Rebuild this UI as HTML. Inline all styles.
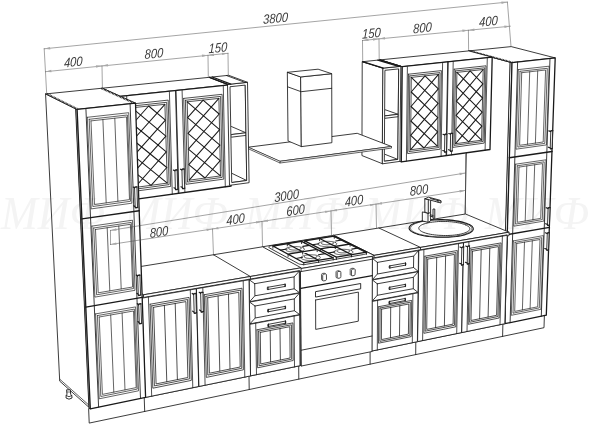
<!DOCTYPE html><html><head><meta charset="utf-8"><style>html,body{margin:0;padding:0;background:#fff}svg{display:block}</style></head><body><svg width="600" height="424" viewBox="0 0 600 424" stroke-linejoin="round" stroke-linecap="round"><path d="M89,408.4L544.4,315L544,327.7L89.6,423Z" fill="#fff" stroke="#1a1a1a" stroke-width="0.85"/><path d="M144.7,411.5L144.2,397.1" fill="none" stroke="#1a1a1a" stroke-width="0.85"/><path d="M249.2,389.5L249,375.6" fill="none" stroke="#1a1a1a" stroke-width="0.85"/><path d="M298.8,379.1L298.7,365.4" fill="none" stroke="#1a1a1a" stroke-width="0.85"/><path d="M370.1,364.2L370.1,350.8" fill="none" stroke="#1a1a1a" stroke-width="0.85"/><path d="M415.7,354.6L415.8,341.4" fill="none" stroke="#1a1a1a" stroke-width="0.85"/><path d="M502.6,336.4L502.9,323.5" fill="none" stroke="#1a1a1a" stroke-width="0.85"/><path d="M468.8,50.9L510.4,62.2L503.3,322.7L463.6,303Z" fill="#fff" stroke="#1a1a1a" stroke-width="0.85"/><path d="M463.7,301.1L503.4,320.8" fill="none" stroke="#1a1a1a" stroke-width="0.68"/><path d="M510.4,62.2L512,62.6L504.8,323.7L503.3,323Z" fill="#fff" stroke="#1a1a1a" stroke-width="0.85"/><path d="M468.8,50.9L511.2,46.6L555.2,57.9L512,62.6Z" fill="#fff" stroke="#1a1a1a" stroke-width="0.85"/><path d="M469.7,50.8L512.8,62.5" fill="none" stroke="#1a1a1a" stroke-width="1.7" stroke-dasharray="0.8 0.7" stroke-linecap="butt"/><path d="M512,62.6L555.2,57.9L546.3,315.2L504.8,323.7Z" fill="#fff" stroke="#1a1a1a" stroke-width="1.3"/><path d="M518.3,69.6L549.1,66.2L546.5,144.9L516,149.2L518.3,69.6M520,71.3L547.3,68.3L544.8,143.4L517.8,147.1L520,71.3M521.7,72.7L545.6,70L543.2,142L519.6,145.3L521.7,72.7M527.5,144.2L529.7,71.8M535.4,143.1L537.7,70.9" fill="none" stroke="#1a1a1a" stroke-width="0.675"/><path d="M515.6,164.2L546,159.8L543.9,221.1L513.8,226.2L515.6,164.2M517.3,165.8L544.2,161.8L542.3,219.6L515.6,224.1L517.3,165.8M519,167.1L542.5,163.6L540.7,218.4L517.3,222.3L519,167.1M525.2,221L526.8,165.9M532.9,219.7L534.7,164.8" fill="none" stroke="#1a1a1a" stroke-width="0.675"/><path d="M513.4,240.9L543.4,235.6L540.9,309.3L511.3,315.3L513.4,240.9M515.1,242.3L541.7,237.7L539.3,307.9L513,313.2L515.1,242.3M516.7,243.5L540,239.5L537.7,306.8L514.7,311.4L516.7,243.5M522.4,309.9L524.5,242.2M530.1,308.3L532.3,240.8" fill="none" stroke="#1a1a1a" stroke-width="0.675"/><path d="M510.1,322.6L517.6,62M541.3,316.2L550,58.5" fill="none" stroke="#1a1a1a" stroke-width="0.85"/><path d="M509.3,157.7L552,151.5" fill="none" stroke="#1a1a1a" stroke-width="1.4"/><path d="M507.2,234.6L549.4,227.4" fill="none" stroke="#1a1a1a" stroke-width="1.4"/><path d="M548.3,147.2L550.6,148M548.8,130.9L551.2,131.6" fill="none" stroke="#1a1a1a" stroke-width="1.2"/><path d="M550.6,149L552,148.8L552.7,130.4L551.2,130.6Z" fill="#fff" stroke="#1a1a1a" stroke-width="0.85" stroke-linejoin="round"/><path d="M550.4,148.7L552.3,148.4M551,131L552.9,130.7" fill="none" stroke="#1a1a1a" stroke-width="1.0"/><path d="M545.7,223.7L548,224.6M546.2,207.7L548.5,208.6" fill="none" stroke="#1a1a1a" stroke-width="1.2"/><path d="M547.9,225.6L549.4,225.3L550,207.4L548.5,207.6Z" fill="#fff" stroke="#1a1a1a" stroke-width="0.85" stroke-linejoin="round"/><path d="M547.7,225.3L549.6,224.9M548.3,208L550.2,207.7" fill="none" stroke="#1a1a1a" stroke-width="1.0"/><path d="M544.8,248.5L547.1,249.4M545.4,232.8L547.6,233.7" fill="none" stroke="#1a1a1a" stroke-width="1.2"/><path d="M547.1,250.4L548.5,250.2L549.1,232.5L547.7,232.7Z" fill="#fff" stroke="#1a1a1a" stroke-width="0.85" stroke-linejoin="round"/><path d="M546.9,250.1L548.7,249.8M547.5,233.1L549.3,232.8" fill="none" stroke="#1a1a1a" stroke-width="1.0"/><path d="M333.5,235.3L465.5,214L509.1,232.2L374,255.4Z" fill="#fff" stroke="#1a1a1a" stroke-width="0.85"/><path d="M374,255.4L509.1,232.2L509,235.7L374,259Z" fill="#fff" stroke="#1a1a1a" stroke-width="0.85"/><path d="M333.5,235.3L374,255.4L374,259L333.5,238.8Z" fill="#fff" stroke="#1a1a1a" stroke-width="0.85"/><path d="M378.9,228L420.5,247.4L420.5,250.9" fill="none" stroke="#1a1a1a" stroke-width="0.85"/><path d="M418.8,250.1L507.2,234.9L504.8,323.7L417.6,341.6Z" fill="#fff" stroke="#1a1a1a" stroke-width="0.85"/><path d="M418.7,250.5L463.5,242.8L461.7,332.6L417.6,341.6Z" fill="#fff" stroke="#1a1a1a" stroke-width="0.85"/><path d="M422.6,340.6L423.9,249.6M456.7,333.6L458.5,243.7M424.9,256.2L457.3,250.5L455.8,326.8L423.9,333.3L424.9,256.2M426.3,257.6L455.9,252.5L454.5,325.3L425.2,331.2L426.3,257.6M427.7,259.1L454.4,254.4L453.1,324.1L426.7,329.4L427.7,259.1M435.6,327.6L436.7,257.5M444.4,325.9L445.6,255.9" fill="none" stroke="#1a1a1a" stroke-width="0.765"/><path d="M463.9,242.7L507.2,235.3L504.8,323.7L462.1,332.5Z" fill="#fff" stroke="#1a1a1a" stroke-width="0.85"/><path d="M467,331.5L468.9,241.9M500,324.7L502.4,236.1M469.8,248.3L501.1,242.9L499.1,318L468.2,324.3L469.8,248.3M471.1,249.8L499.8,244.8L497.9,316.5L469.6,322.3L471.1,249.8M472.5,251.2L498.4,246.6L496.6,315.3L471,320.5L472.5,251.2M479.6,318.8L481.2,249.7M488.1,317L489.8,248.2" fill="none" stroke="#1a1a1a" stroke-width="0.765"/><path d="M459.7,263.3L461.8,264.3M460,247L462.2,248" fill="none" stroke="#1a1a1a" stroke-width="1.2"/><path d="M461.8,265.3L463.4,265L463.7,246.7L462.2,247Z" fill="#fff" stroke="#1a1a1a" stroke-width="0.85" stroke-linejoin="round"/><path d="M461.6,265L463.6,264.6M462,247.4L464,247" fill="none" stroke="#1a1a1a" stroke-width="1.0"/><path d="M465.4,262.3L467.6,263.3M465.7,246L467.9,247" fill="none" stroke="#1a1a1a" stroke-width="1.2"/><path d="M467.6,264.3L469.1,264L469.5,245.7L467.9,246Z" fill="#fff" stroke="#1a1a1a" stroke-width="0.85" stroke-linejoin="round"/><path d="M467.3,263.9L469.3,263.6M467.7,246.4L469.7,246" fill="none" stroke="#1a1a1a" stroke-width="1.0"/><path d="M467.9,223.9L469.4,224.6L470.6,225.3L471.6,226L472.4,226.7L472.9,227.5L473.2,228.3L473.3,229L473.1,229.8L472.7,230.6L472,231.3L471.1,232L470,232.7L468.6,233.4L467,234L465.3,234.6L463.3,235.2L461.1,235.7L458.8,236.1L456.4,236.5L453.8,236.8L451.2,237L448.4,237.2L445.6,237.3L442.8,237.3L439.9,237.3L437.1,237.2L434.3,237L431.5,236.8L428.8,236.5L426.2,236.1L423.8,235.7L421.5,235.2L419.3,234.7L417.3,234.1L415.5,233.5L413.9,232.8L412.5,232.1L411.4,231.4L410.5,230.7L409.8,229.9L409.3,229.1L409.1,228.4L409.2,227.6L409.4,226.8L410,226.1L410.7,225.3L411.7,224.6L412.9,224L414.3,223.3L415.9,222.7L417.7,222.2L419.7,221.7L421.8,221.2L424.1,220.8L426.5,220.4L429,220.1L431.6,219.9L434.2,219.8L436.9,219.7L439.7,219.6L442.4,219.6L445.2,219.7L447.9,219.9L450.5,220.1L453.1,220.4L455.6,220.7L458.1,221.1L460.3,221.6L462.5,222.1L464.5,222.7L466.3,223.3L467.9,223.9Z" fill="#fff" stroke="#1a1a1a" stroke-width="1.1"/><path d="M466.7,224.1L468.1,224.7L469.3,225.4L470.2,226.1L471,226.8L471.5,227.5L471.8,228.3L471.9,229L471.7,229.7L471.3,230.5L470.6,231.2L469.8,231.9L468.7,232.5L467.4,233.2L465.9,233.8L464.2,234.3L462.3,234.9L460.2,235.3L458,235.7L455.7,236.1L453.2,236.4L450.7,236.6L448.1,236.8L445.4,236.9L442.7,236.9L440,236.9L437.2,236.8L434.6,236.6L431.9,236.4L429.4,236.1L426.9,235.8L424.6,235.4L422.4,234.9L420.3,234.4L418.4,233.9L416.7,233.3L415.2,232.6L413.8,232L412.7,231.3L411.8,230.6L411.2,229.8L410.7,229.1L410.5,228.4L410.6,227.6L410.9,226.9L411.3,226.2L412.1,225.5L413,224.8L414.2,224.2L415.5,223.5L417.1,223L418.8,222.4L420.7,221.9L422.7,221.5L424.9,221.1L427.1,220.8L429.5,220.5L432,220.3L434.5,220.1L437.1,220L439.7,220L442.4,220L445,220.1L447.6,220.3L450.1,220.5L452.6,220.7L455,221.1L457.3,221.5L459.5,221.9L461.5,222.4L463.4,222.9L465.2,223.5L466.7,224.1" fill="none" stroke="#1a1a1a" stroke-width="0.6"/><path d="M465.6,224.9L466.7,225.4L467.7,226L468.5,226.5L469.1,227.1L469.5,227.7L469.8,228.3L469.8,229L469.7,229.6L469.3,230.2L468.8,230.8L468.1,231.3L467.2,231.9L466.1,232.4L464.8,232.9L463.4,233.4L461.9,233.8L460.2,234.2L458.3,234.5L456.4,234.8L454.3,235.1L452.2,235.3L450.1,235.4L447.8,235.5L445.6,235.5L443.3,235.5L441.1,235.4L438.8,235.3L436.6,235.1L434.5,234.9L432.5,234.6L430.5,234.3L428.7,233.9L427,233.5L425.4,233L423.9,232.5L422.7,232L421.5,231.4L420.6,230.8L419.9,230.3L419.3,229.6L418.9,229L418.8,228.4L418.8,227.8L419,227.2L419.4,226.6L420,226L420.8,225.5L421.7,224.9L422.8,224.4L424.1,223.9L425.5,223.5L427.1,223.1L428.8,222.7L430.6,222.4L432.5,222.1L434.5,221.9L436.6,221.7L438.7,221.5L440.8,221.5L443,221.4L445.2,221.5L447.4,221.5L449.6,221.7L451.7,221.8L453.8,222.1L455.8,222.3L457.7,222.7L459.5,223L461.2,223.4L462.8,223.9L464.3,224.3L465.6,224.9" fill="none" stroke="#1a1a1a" stroke-width="0.85"/><path d="M422.7,212L428,213.2L430.6,212.2L430.6,221L428,222.3L422.7,221Z" fill="#fff" stroke="#1a1a1a" stroke-width="0.9"/><path d="M428,213.2L428,222.3" fill="none" stroke="#1a1a1a" stroke-width="0.9"/><path d="M430.6,215L434.5,215.6L434.5,217L430.6,216.4Z" fill="#fff" stroke="#1a1a1a" stroke-width="0.9"/><path d="M433.4,209L434.8,209L434.8,218.3L433.4,218.3Z" fill="#fff" stroke="#1a1a1a" stroke-width="0.9"/><path d="M425.2,198.6L428.3,199.6L430.6,198.6L430.6,212.4L428.3,213.4L425.2,212.2Z" fill="#fff" stroke="#1a1a1a" stroke-width="0.9"/><path d="M428.3,199.6L428.3,213.4" fill="none" stroke="#1a1a1a" stroke-width="0.9"/><path d="M425.2,198.6L428.6,197.2L439.8,200.2L441,201L441,203L438,202.2L430.6,200.2L428.3,199.6Z" fill="#fff" stroke="#1a1a1a" stroke-width="0.9"/><path d="M430.6,198.6L438,200.6L438,202.2" fill="none" stroke="#1a1a1a" stroke-width="0.9"/><path d="M438,200.6L441,201" fill="none" stroke="#1a1a1a" stroke-width="0.9"/><path d="M372.3,258.1L418.8,250.1L417.6,341.6L371.8,351Z" fill="#fff" stroke="#1a1a1a" stroke-width="0.85"/><path d="M372.5,258.5L418.5,250.6L418.3,271.4L372.4,279.6Z" fill="#fff" stroke="#1a1a1a" stroke-width="0.85"/><path d="M377.4,262.4L413.7,256.1L413.5,267.5L377.4,274L377.4,262.4M372.5,258.5L377.4,262.4M418.5,250.6L413.7,256.1M418.3,271.4L413.5,267.5M372.4,279.6L377.4,274" fill="none" stroke="#1a1a1a" stroke-width="0.85"/><path d="M389.6,268L405.8,265.1L405.8,263L389.6,265.9Z" fill="#fff" stroke="#1a1a1a" stroke-width="0.85" stroke-linejoin="round"/><path d="M389.9,268.2L389.9,265.6M405.5,265.4L405.5,262.8" fill="none" stroke="#1a1a1a" stroke-width="1.0"/><path d="M372.4,280L418.3,271.7L418,292.4L372.3,301Z" fill="#fff" stroke="#1a1a1a" stroke-width="0.85"/><path d="M377.3,283.8L413.4,277.3L413.3,288.7L377.3,295.3L377.3,283.8M372.4,280L377.3,283.8M418.3,271.7L413.4,277.3M418,292.4L413.3,288.7M372.3,301L377.3,295.3" fill="none" stroke="#1a1a1a" stroke-width="0.85"/><path d="M389.4,289.4L405.6,286.4L405.6,284.3L389.4,287.3Z" fill="#fff" stroke="#1a1a1a" stroke-width="0.85" stroke-linejoin="round"/><path d="M389.8,289.6L389.8,286.9M405.3,286.7L405.3,284.1" fill="none" stroke="#1a1a1a" stroke-width="1.0"/><path d="M372.3,301.4L418,292.8L417.4,341.7L372.1,351Z" fill="#fff" stroke="#1a1a1a" stroke-width="0.85"/><path d="M377.3,349.9L377.6,300.4M412.3,342.7L412.9,293.8M378.7,306.7L411.7,300.4L411.2,336.6L378.5,343.2L378.7,306.7M380.1,308L410.3,302.2L409.9,335.3L379.9,341.4L380.1,308M381.6,309.2L408.8,304L408.4,334.1L381.4,339.6L381.6,309.2M390.5,337.7L390.7,307.5M399.5,335.9L399.8,305.8" fill="none" stroke="#1a1a1a" stroke-width="0.765"/><path d="M389.3,303.6L405.5,300.5L405.5,298.4L389.3,301.5Z" fill="#fff" stroke="#1a1a1a" stroke-width="0.85" stroke-linejoin="round"/><path d="M389.6,303.8L389.7,301.2M405.1,300.8L405.1,298.2" fill="none" stroke="#1a1a1a" stroke-width="1.0"/><path d="M379.9,59.9L468.8,50.9L492.2,57.2L402.2,66.7Z" fill="#fff" stroke="#1a1a1a" stroke-width="0.85"/><path d="M379.9,59.9L402.2,66.7L401.3,161.9L379.4,153.2Z" fill="#fff" stroke="#1a1a1a" stroke-width="0.85"/><path d="M402.2,66.7L492.2,57.2L490,149.5L401.3,161.9Z" fill="#fff" stroke="#1a1a1a" stroke-width="1.3"/><path d="M406.4,161.1L407.4,66.7M441.1,156.3L442.6,63M408.5,74.2L441.4,70.6L440.1,149.2L407.6,153.6L408.5,74.2M409.8,75.9L440,72.6L438.8,147.5L409,151.6L409.8,75.9M411.3,77.4L438.5,74.4L437.4,146.1L410.5,149.8L411.3,77.4" fill="none" stroke="#1a1a1a" stroke-width="0.765"/><path d="M410.7,135.4L424,148M410.8,121L437.4,146.1M411,106.5L437.6,131.9M411.2,92L437.8,117.7M411.3,77.4L438.1,103.3M425,75.9L438.3,88.9M425,75.9L411.2,92M438.5,74.4L411,106.5M438.3,88.9L410.8,121M438.1,103.3L410.7,135.4M437.8,117.7L410.5,149.8M437.6,131.9L424,148" fill="none" stroke="#1a1a1a" stroke-width="1.0625"/><path d="M451.5,154.9L453.2,61.9M485.1,150.2L487.3,58.3M454.2,69.2L486,65.8L484.2,143.1L452.8,147.4L454.2,69.2M455.5,70.9L484.7,67.8L483,141.5L454.1,145.4L455.5,70.9M456.9,72.4L483.2,69.5L481.6,140.2L455.6,143.7L456.9,72.4" fill="none" stroke="#1a1a1a" stroke-width="0.765"/><path d="M455.9,129.6L468.7,141.9M456.1,115.4L481.6,140.2M456.4,101.1L481.9,126.2M456.7,86.8L482.2,112.1M456.9,72.4L482.6,98M470.1,70.9L482.9,83.8M470.1,70.9L456.7,86.8M483.2,69.5L456.4,101.1M482.9,83.8L456.1,115.4M482.6,98L455.9,129.6M482.2,112.1L455.6,143.7M481.9,126.2L468.7,141.9" fill="none" stroke="#1a1a1a" stroke-width="1.0625"/><path d="M446.1,155.6L447.7,61.9M446.6,155.6L448.2,61.9" fill="none" stroke="#1a1a1a" stroke-width="0.85"/><path d="M442.8,150.5L444.9,151.3M443,134.3L445.2,135.1" fill="none" stroke="#1a1a1a" stroke-width="1.2"/><path d="M444.9,152.3L446.5,152.1L446.8,133.8L445.2,134Z" fill="#fff" stroke="#1a1a1a" stroke-width="0.85" stroke-linejoin="round"/><path d="M444.7,152L446.7,151.7M445,134.4L447,134.2" fill="none" stroke="#1a1a1a" stroke-width="1.0"/><path d="M448.5,149.7L450.7,150.5M448.8,133.5L451,134.3" fill="none" stroke="#1a1a1a" stroke-width="1.2"/><path d="M450.7,151.5L452.2,151.3L452.6,133L451,133.2Z" fill="#fff" stroke="#1a1a1a" stroke-width="0.85" stroke-linejoin="round"/><path d="M450.5,151.2L452.5,150.9M450.8,133.7L452.8,133.4" fill="none" stroke="#1a1a1a" stroke-width="1.0"/><path d="M362.6,61.7L383.2,68.1L382.6,163.8L362.3,155.7Z" fill="#fff" stroke="#1a1a1a" stroke-width="0.85"/><path d="M383.2,68.1L400.8,66.3L399.9,161.4L382.6,163.8Z" fill="#fff" stroke="#1a1a1a" stroke-width="0.85"/><clipPath id="c1"><path d="M385.3,70.3L398.7,68.9L397.8,159.4L384.7,161.2Z"/></clipPath><g clip-path="url(#c1)"><path d="M377.8,60.1L398.7,66.5L397.8,161.7L377.3,153.6Z" fill="#fff" stroke="#1a1a1a" stroke-width="0.85"/><path d="M364.4,153L377.3,151.3L397.8,159.4L384.7,161.2Z" fill="#fff" stroke="#1a1a1a" stroke-width="0.85"/><path d="M364.5,108.6L377.6,107.1L398.2,114.3L385,115.9Z" fill="#fff" stroke="#1a1a1a" stroke-width="0.85"/><path d="M385,115.9L398.2,114.3L398.2,116.7L385,118.3Z" fill="#fff" stroke="#1a1a1a" stroke-width="0.85"/></g><path d="M385.3,70.3L398.7,68.9L397.8,159.4L384.7,161.2Z" fill="none" stroke="#1a1a1a" stroke-width="0.85"/><path d="M362.6,61.7L379.9,59.9L400.8,66.3L383.2,68.1Z" fill="#fff" stroke="#1a1a1a" stroke-width="0.85"/><path d="M362.6,61.7L383.2,68.1" fill="none" stroke="#1a1a1a" stroke-width="1.3"/><path d="M377.8,60.1L398.7,66.5" fill="none" stroke="#1a1a1a" stroke-width="1.3"/><path d="M379.9,59.9L400.8,66.3" fill="none" stroke="#1a1a1a" stroke-width="1.3"/><path d="M248.3,147.2L357.2,133.3L391.5,146.5L280.1,161.3Z" fill="#fff" stroke="#1a1a1a" stroke-width="0.85"/><path d="M280.1,161.3L391.5,146.5L391.5,148.1L280.1,163Z" fill="#fff" stroke="#1a1a1a" stroke-width="0.68"/><path d="M248.3,147.2L280.1,161.3L280.1,163L248.3,148.8Z" fill="#fff" stroke="#1a1a1a" stroke-width="0.68"/><path d="M287.7,72.3L301,76.9L301.5,146.6L288.4,141.1Z" fill="#fff" stroke="#1a1a1a" stroke-width="0.85"/><path d="M301,76.9L331.7,73.7L331.9,142.7L301.5,146.6Z" fill="#fff" stroke="#1a1a1a" stroke-width="0.85"/><path d="M287.7,72.3L318.1,69.2L331.7,73.7L301,76.9Z" fill="#fff" stroke="#1a1a1a" stroke-width="0.85"/><path d="M287.9,86.9L301.1,91.7L331.7,88.3" fill="none" stroke="#1a1a1a" stroke-width="0.85"/><path d="M262.3,247.5L300.8,268.6L301.5,366L263.6,341.4Z" fill="#fff" stroke="#1a1a1a" stroke-width="0.85"/><path d="M262.3,246.8L333.5,235.3L374,255.4L372.4,256.3L300.8,268.6Z" fill="#fff" stroke="#1a1a1a" stroke-width="0.85"/><path d="M300.8,268.6L372.4,256.3L372,351.5L301.5,366Z" fill="#fff" stroke="#1a1a1a" stroke-width="0.85"/><path d="M300.8,271.6L372.4,259.2" fill="none" stroke="#1a1a1a" stroke-width="0.85"/><path d="M300.9,288.4L372.3,275.6" fill="none" stroke="#1a1a1a" stroke-width="1.2"/><path d="M301.4,350.2L372,336" fill="none" stroke="#1a1a1a" stroke-width="0.85"/><path d="M315.6,300L358.4,292.1L358.3,321.2L315.7,329.4L315.6,300" fill="none" stroke="#1a1a1a" stroke-width="0.85"/><path d="M315.9,291.6L360.7,283.5L360.7,288.8L315.9,297Z" fill="#fff" stroke="#1a1a1a" stroke-width="0.9" stroke-linejoin="round"/><path d="M325.1,274L325,273.5L324.7,273.2L324.3,273.2L322.3,273.5L321.9,273.7L321.6,274.1L321.5,274.6L321.5,279.5L321.6,279.9L321.9,280.2L322.3,280.3L324.3,279.9L324.7,279.7L325,279.3L325.1,278.8Z" fill="#fff" stroke="#1a1a1a" stroke-width="0.7"/><path d="M326.3,274.6L326.2,274.2L325.9,273.9L325.5,273.8L323.5,274.2L323.1,274.4L322.8,274.8L322.7,275.3L322.7,280.1L322.8,280.6L323.1,280.9L323.5,280.9L325.5,280.6L325.9,280.4L326.2,280L326.4,279.5Z" fill="#fff" stroke="#1a1a1a" stroke-width="0.8"/><path d="M339.6,271.4L339.5,271L339.2,270.7L338.8,270.7L336.8,271L336.4,271.2L336.1,271.6L336,272.1L336,276.9L336.1,277.4L336.4,277.6L336.8,277.7L338.8,277.3L339.2,277.1L339.5,276.8L339.6,276.3Z" fill="#fff" stroke="#1a1a1a" stroke-width="0.7"/><path d="M340.8,272.1L340.7,271.6L340.4,271.4L340,271.3L338,271.6L337.6,271.8L337.3,272.2L337.2,272.7L337.2,277.6L337.3,278L337.6,278.3L338,278.3L340,278L340.4,277.8L340.7,277.4L340.8,276.9Z" fill="#fff" stroke="#1a1a1a" stroke-width="0.8"/><path d="M353.8,269L353.7,268.5L353.4,268.2L353,268.2L351.1,268.5L350.6,268.7L350.3,269.1L350.2,269.6L350.2,274.4L350.3,274.8L350.6,275.1L351,275.2L353,274.8L353.4,274.6L353.7,274.2L353.8,273.8Z" fill="#fff" stroke="#1a1a1a" stroke-width="0.7"/><path d="M355.1,269.6L354.9,269.2L354.6,268.9L354.2,268.8L352.3,269.2L351.9,269.4L351.6,269.7L351.5,270.2L351.4,275L351.6,275.5L351.9,275.8L352.3,275.8L354.2,275.5L354.6,275.3L354.9,274.9L355,274.4Z" fill="#fff" stroke="#1a1a1a" stroke-width="0.8"/><path d="M327.7,236.6L329,236.4L330.4,236.4L331.7,236.4L333,236.6L334.1,236.8L334.9,237.1L365.6,252.4L366.1,252.7L366.3,253.2L366.1,253.6L365.6,254L364.7,254.3L363.6,254.5L306.1,264.3L304.7,264.5L303.3,264.6L301.8,264.5L300.5,264.3L299.4,264.1L298.5,263.7L269.2,247.8L268.8,247.4L268.6,247L268.9,246.6L269.5,246.2L270.4,245.9L271.6,245.7Z" fill="#fff" stroke="#1a1a1a" stroke-width="0.85"/><path d="M303.4,247.9L303.7,248.1L304,248.3L304.2,248.6L304.4,248.8L304.5,249L304.5,249.3L304.4,249.5L304.3,249.8L304.1,250L303.8,250.2L303.5,250.4L303.1,250.7L302.6,250.9L302.1,251.1L301.5,251.2L300.8,251.4L300.2,251.5L299.4,251.7L298.7,251.8L297.9,251.9L297.1,252L296.3,252L295.4,252L294.6,252.1L293.8,252L292.9,252L292.1,252L291.3,251.9L290.6,251.8L289.9,251.7L289.2,251.6L288.5,251.4L287.9,251.3L287.4,251.1L286.9,250.9L286.5,250.7L286.1,250.5L285.9,250.3L285.6,250L285.5,249.8L285.4,249.6L285.4,249.3L285.5,249.1L285.6,248.8L285.9,248.6L286.1,248.4L286.5,248.2L286.9,247.9L287.4,247.7L287.9,247.6L288.5,247.4L289.1,247.2L289.8,247.1L290.5,246.9L291.3,246.8L292.1,246.7L292.9,246.7L293.7,246.6L294.5,246.6L295.3,246.6L296.1,246.6L297,246.6L297.8,246.7L298.5,246.7L299.3,246.8L300,246.9L300.7,247.1L301.3,247.2L301.9,247.4L302.5,247.5L303,247.7L303.4,247.9" fill="none" stroke="#1a1a1a" stroke-width="0.7"/><path d="M300.8,247.8L300.9,247.9L301,248L301,248.1L301.1,248.1L301.1,248.2L301.1,248.3L301.1,248.4L301.1,248.5L301,248.6L301,248.7L300.9,248.8L300.8,248.8L300.7,248.9L300.6,249L300.4,249.1L300.3,249.2L300.1,249.3L300,249.3L299.8,249.4L299.6,249.5L299.4,249.5L299.2,249.6L299,249.7L298.7,249.7L298.5,249.8L298.2,249.8L297.9,249.9L297.7,249.9L297.4,250L297.1,250L296.8,250L296.5,250.1L296.2,250.1L295.9,250.1L295.6,250.1L295.3,250.1L295,250.1L294.7,250.1L294.4,250.1L294.1,250.1L293.8,250.1L293.5,250.1L293.2,250.1L292.9,250.1L292.6,250L292.3,250L292,250L291.8,249.9L291.5,249.9L291.3,249.8L291,249.8L290.8,249.7L290.6,249.7L290.4,249.6L290.2,249.5L290,249.5L289.8,249.4L289.6,249.3L289.5,249.3L289.4,249.2L289.2,249.1L289.1,249L289,248.9L289,248.8L288.9,248.8L288.9,248.7L288.8,248.6L288.8,248.5L288.8,248.4L288.8,248.3L288.9,248.2L288.9,248.1" fill="none" stroke="#1a1a1a" stroke-width="0.8"/><path d="M319.1,256.2L319.5,256.4L319.8,256.6L320,256.8L320.2,257.1L320.3,257.3L320.3,257.6L320.2,257.8L320.1,258.1L319.9,258.3L319.6,258.6L319.3,258.8L318.9,259L318.4,259.2L317.9,259.4L317.3,259.6L316.6,259.8L316,259.9L315.2,260.1L314.5,260.2L313.7,260.3L312.9,260.3L312,260.4L311.2,260.4L310.3,260.5L309.5,260.4L308.6,260.4L307.8,260.4L307,260.3L306.2,260.2L305.5,260.1L304.8,259.9L304.1,259.8L303.5,259.6L303,259.4L302.5,259.2L302,259L301.7,258.8L301.4,258.6L301.2,258.4L301,258.1L300.9,257.9L300.9,257.6L301,257.4L301.1,257.1L301.3,256.9L301.6,256.6L302,256.4L302.4,256.2L302.8,256L303.4,255.8L304,255.6L304.6,255.4L305.3,255.3L306,255.2L306.8,255.1L307.6,255L308.4,254.9L309.2,254.8L310,254.8L310.9,254.8L311.7,254.8L312.5,254.8L313.4,254.9L314.2,254.9L314.9,255L315.7,255.1L316.4,255.3L317,255.4L317.6,255.6L318.2,255.8L318.7,256L319.1,256.2" fill="none" stroke="#1a1a1a" stroke-width="0.7"/><path d="M316.5,256.1L316.6,256.2L316.7,256.2L316.8,256.3L316.8,256.4L316.8,256.5L316.8,256.6L316.8,256.7L316.8,256.8L316.8,256.9L316.7,257L316.6,257.1L316.5,257.1L316.4,257.2L316.3,257.3L316.2,257.4L316.1,257.5L315.9,257.6L315.7,257.6L315.5,257.7L315.4,257.8L315.1,257.9L314.9,257.9L314.7,258L314.5,258.1L314.2,258.1L313.9,258.2L313.7,258.2L313.4,258.3L313.1,258.3L312.8,258.3L312.5,258.4L312.2,258.4L311.9,258.4L311.6,258.5L311.3,258.5L311,258.5L310.7,258.5L310.4,258.5L310.1,258.5L309.8,258.5L309.5,258.5L309.1,258.5L308.8,258.4L308.5,258.4L308.3,258.4L308,258.3L307.7,258.3L307.4,258.3L307.1,258.2L306.9,258.2L306.6,258.1L306.4,258.1L306.2,258L306,257.9L305.8,257.9L305.6,257.8L305.4,257.7L305.2,257.7L305.1,257.6L304.9,257.5L304.8,257.4L304.7,257.3L304.6,257.2L304.5,257.2L304.5,257.1L304.4,257L304.4,256.9L304.4,256.8L304.4,256.7L304.4,256.6L304.4,256.5L304.4,256.4" fill="none" stroke="#1a1a1a" stroke-width="0.8"/><path d="M335.6,242.6L336,242.8L336.3,243L336.5,243.3L336.7,243.5L336.8,243.7L336.8,244L336.7,244.2L336.6,244.4L336.4,244.6L336.2,244.9L335.9,245.1L335.5,245.3L335,245.5L334.5,245.7L333.9,245.9L333.3,246L332.7,246.2L331.9,246.3L331.2,246.4L330.4,246.5L329.7,246.6L328.8,246.6L328,246.7L327.2,246.7L326.4,246.7L325.6,246.6L324.7,246.6L324,246.5L323.2,246.4L322.5,246.3L321.8,246.2L321.2,246L320.6,245.9L320,245.7L319.5,245.5L319.1,245.3L318.7,245.1L318.4,244.9L318.2,244.7L318,244.5L318,244.2L317.9,244L318,243.8L318.1,243.5L318.3,243.3L318.6,243.1L318.9,242.9L319.3,242.6L319.8,242.4L320.3,242.3L320.9,242.1L321.5,241.9L322.1,241.8L322.8,241.7L323.6,241.6L324.3,241.5L325.1,241.4L325.9,241.3L326.7,241.3L327.5,241.3L328.4,241.3L329.2,241.3L330,241.4L330.7,241.5L331.5,241.5L332.2,241.6L332.9,241.8L333.5,241.9L334.1,242.1L334.7,242.2L335.2,242.4L335.6,242.6" fill="none" stroke="#1a1a1a" stroke-width="0.7"/><path d="M333.1,242.5L333.2,242.6L333.3,242.7L333.3,242.7L333.4,242.8L333.4,242.9L333.4,243L333.4,243.1L333.4,243.2L333.4,243.3L333.3,243.3L333.2,243.4L333.2,243.5L333.1,243.6L333,243.7L332.8,243.8L332.7,243.8L332.6,243.9L332.4,244L332.2,244.1L332,244.1L331.8,244.2L331.6,244.3L331.4,244.3L331.2,244.4L330.9,244.4L330.7,244.5L330.4,244.5L330.1,244.6L329.9,244.6L329.6,244.6L329.3,244.7L329,244.7L328.7,244.7L328.4,244.7L328.1,244.8L327.8,244.8L327.5,244.8L327.2,244.8L326.9,244.8L326.6,244.8L326.3,244.8L326,244.8L325.7,244.7L325.4,244.7L325.1,244.7L324.9,244.6L324.6,244.6L324.3,244.6L324.1,244.5L323.8,244.5L323.6,244.4L323.3,244.4L323.1,244.3L322.9,244.3L322.7,244.2L322.5,244.1L322.3,244.1L322.2,244L322,243.9L321.9,243.8L321.8,243.8L321.7,243.7L321.6,243.6L321.5,243.5L321.4,243.4L321.4,243.3L321.3,243.3L321.3,243.2L321.3,243.1L321.3,243L321.3,242.9L321.4,242.8" fill="none" stroke="#1a1a1a" stroke-width="0.8"/><path d="M351.7,250.7L352,250.9L352.4,251.1L352.6,251.4L352.8,251.6L352.9,251.8L352.9,252.1L352.9,252.3L352.8,252.6L352.6,252.8L352.3,253L352,253.2L351.6,253.5L351.2,253.7L350.7,253.9L350.1,254L349.5,254.2L348.8,254.4L348.1,254.5L347.3,254.6L346.6,254.7L345.8,254.8L344.9,254.8L344.1,254.9L343.3,254.9L342.4,254.9L341.6,254.8L340.8,254.8L340,254.7L339.2,254.6L338.5,254.5L337.8,254.4L337.1,254.2L336.5,254.1L335.9,253.9L335.4,253.7L335,253.5L334.6,253.3L334.3,253.1L334.1,252.8L333.9,252.6L333.8,252.3L333.8,252.1L333.8,251.9L334,251.6L334.1,251.4L334.4,251.2L334.7,250.9L335.1,250.7L335.6,250.5L336.1,250.3L336.7,250.1L337.3,250L338,249.8L338.7,249.7L339.4,249.6L340.2,249.5L341,249.4L341.8,249.4L342.6,249.3L343.4,249.3L344.3,249.3L345.1,249.4L345.9,249.4L346.7,249.5L347.5,249.6L348.2,249.7L348.9,249.8L349.6,250L350.2,250.1L350.7,250.3L351.2,250.5L351.7,250.7" fill="none" stroke="#1a1a1a" stroke-width="0.7"/><path d="M349.2,250.6L349.3,250.7L349.4,250.8L349.4,250.8L349.5,250.9L349.5,251L349.5,251.1L349.5,251.2L349.5,251.3L349.5,251.4L349.4,251.5L349.3,251.6L349.3,251.6L349.2,251.7L349.1,251.8L348.9,251.9L348.8,252L348.7,252L348.5,252.1L348.3,252.2L348.1,252.3L347.9,252.3L347.7,252.4L347.5,252.5L347.3,252.5L347,252.6L346.8,252.6L346.5,252.7L346.2,252.7L346,252.8L345.7,252.8L345.4,252.8L345.1,252.9L344.8,252.9L344.5,252.9L344.2,252.9L343.9,252.9L343.6,252.9L343.3,252.9L343,252.9L342.6,252.9L342.3,252.9L342,252.9L341.7,252.9L341.4,252.9L341.2,252.8L340.9,252.8L340.6,252.8L340.3,252.7L340.1,252.7L339.8,252.6L339.5,252.6L339.3,252.5L339.1,252.5L338.9,252.4L338.7,252.3L338.5,252.3L338.3,252.2L338.1,252.1L338,252.1L337.8,252L337.7,251.9L337.6,251.8L337.5,251.7L337.4,251.6L337.3,251.6L337.3,251.5L337.2,251.4L337.2,251.3L337.2,251.2L337.2,251.1L337.2,251L337.3,250.9" fill="none" stroke="#1a1a1a" stroke-width="0.8"/><path d="M272.9,246L272.9,248.3M288.1,254.2L288.1,256.5M303.8,262.7L303.8,265M287.3,243.7L287.3,245.9M302.7,251.8L302.7,254.1M318.6,260.2L318.6,262.5M301.6,241.4L301.6,243.6M317.2,249.4L317.2,251.7M333.2,257.8L333.2,260" fill="none" stroke="#1a1a1a" stroke-width="0.9"/><path d="M272.9,246L301.6,241.4L333.2,257.8L303.8,262.7L272.9,246M287.3,243.7L318.6,260.2M288.1,254.2L317.2,249.4" fill="none" stroke="#1a1a1a" stroke-width="1.3"/><path d="M280.4,250.1L287.1,249M309.3,245.4L302.8,246.4M295.9,258.5L302.6,257.3M325.1,253.6L318.5,254.7" fill="none" stroke="#1a1a1a" stroke-width="1.1"/><path d="M304.7,240.9L304.7,243.1M320.3,248.9L320.3,251.2M336.4,257.2L336.4,259.5M319.6,238.5L319.6,240.7M335.3,246.4L335.3,248.7M351.6,254.7L351.5,256.9M334.3,236.1L334.3,238.3M350.1,244L350.1,246.2M366.6,252.1L366.5,254.4" fill="none" stroke="#1a1a1a" stroke-width="0.9"/><path d="M304.7,240.9L334.3,236.1L366.6,252.1L336.4,257.2L304.7,240.9M319.6,238.5L351.6,254.7M320.3,248.9L350.1,244" fill="none" stroke="#1a1a1a" stroke-width="1.3"/><path d="M312.4,244.8L319,243.8M342.1,240L335.7,241M328.3,253L334.9,251.9M358.3,248L351.8,249.1" fill="none" stroke="#1a1a1a" stroke-width="1.1"/><path d="M109.7,271.5L262.6,246.8L301.1,267.8L143.5,294.8Z" fill="#fff" stroke="#1a1a1a" stroke-width="0.85"/><path d="M143.5,294.8L301.1,267.8L301.2,271.5L143.6,298.7Z" fill="#fff" stroke="#1a1a1a" stroke-width="0.85"/><path d="M109.7,271.5L143.5,294.8L143.6,298.7L109.8,275.2Z" fill="#fff" stroke="#1a1a1a" stroke-width="0.85"/><path d="M213.4,254.7L250.4,276.5L250.5,280.2" fill="none" stroke="#1a1a1a" stroke-width="0.85"/><path d="M249,279.3L299.6,270.6L300.3,365.7L250.5,375.9Z" fill="#fff" stroke="#1a1a1a" stroke-width="0.85"/><path d="M249.2,279.7L299.3,271.1L299.5,292.7L249.6,301.7Z" fill="#fff" stroke="#1a1a1a" stroke-width="0.85"/><path d="M254.7,283.7L294.1,276.9L294.2,288.8L254.9,295.8L254.7,283.7M249.2,279.7L254.7,283.7M299.3,271.1L294.1,276.9M299.5,292.7L294.2,288.8M249.6,301.7L254.9,295.8" fill="none" stroke="#1a1a1a" stroke-width="0.85"/><path d="M267.7,289.5L285.4,286.4L285.4,284.2L267.7,287.3Z" fill="#fff" stroke="#1a1a1a" stroke-width="0.85" stroke-linejoin="round"/><path d="M268.1,289.7L268,287M285,286.7L285,284" fill="none" stroke="#1a1a1a" stroke-width="1.0"/><path d="M249.6,302.1L299.5,293.1L299.7,314.6L249.9,323.9Z" fill="#fff" stroke="#1a1a1a" stroke-width="0.85"/><path d="M255,306L294.3,298.9L294.4,310.7L255.2,318L255,306M249.6,302.1L255,306M299.5,293.1L294.3,298.9M299.7,314.6L294.4,310.7M249.9,323.9L255.2,318" fill="none" stroke="#1a1a1a" stroke-width="0.85"/><path d="M268,311.8L285.6,308.5L285.6,306.3L268,309.6Z" fill="#fff" stroke="#1a1a1a" stroke-width="0.85" stroke-linejoin="round"/><path d="M268.4,312L268.3,309.2M285.2,308.8L285.2,306.1" fill="none" stroke="#1a1a1a" stroke-width="1.0"/><path d="M249.9,324.3L299.7,315L300,365.7L250.8,375.8Z" fill="#fff" stroke="#1a1a1a" stroke-width="0.85"/><path d="M256.5,374.7L255.7,323.2M294.5,366.9L294.1,316M257,329.8L292.9,322.9L293.2,360.5L257.6,367.8L257,329.8M258.6,331.1L291.4,324.8L291.7,359.2L259.1,365.8L258.6,331.1M260.3,332.4L289.8,326.7L290.1,358L260.7,363.9L260.3,332.4M270.6,361.9L270.2,330.5M280.4,359.9L280,328.6" fill="none" stroke="#1a1a1a" stroke-width="0.765"/><path d="M268.2,326.5L285.8,323.2L285.7,321L268.1,324.4Z" fill="#fff" stroke="#1a1a1a" stroke-width="0.85" stroke-linejoin="round"/><path d="M268.6,326.7L268.5,324M285.4,323.5L285.4,320.8" fill="none" stroke="#1a1a1a" stroke-width="1.0"/><path d="M142.2,297.7L249,279.3L250.5,375.9L145.6,397.4Z" fill="#fff" stroke="#1a1a1a" stroke-width="0.85"/><path d="M142.2,298.1L196.3,288.8L198.7,386.5L145.6,397.4Z" fill="#fff" stroke="#1a1a1a" stroke-width="0.85"/><path d="M151.7,396.2L148.4,297.1M192.8,387.7L190.3,289.9M150.1,304.2L189.1,297.4L191.3,380.4L152.8,388.2L150.1,304.2M151.8,305.8L187.6,299.5L189.7,378.8L154.4,385.9L151.8,305.8M153.6,307.3L185.9,301.6L187.9,377.5L156.1,383.9L153.6,307.3M166.8,381.8L164.4,305.4M177.4,379.6L175.2,303.5" fill="none" stroke="#1a1a1a" stroke-width="0.765"/><path d="M196.8,288.7L249,279.8L250.5,375.9L199.3,386.4Z" fill="#fff" stroke="#1a1a1a" stroke-width="0.85"/><path d="M205.1,385.2L202.8,287.7M244.8,377.1L243.2,280.8M204.3,294.7L242,288.2L243.4,369.8L206.3,377.4L204.3,294.7M205.9,296.3L240.5,290.2L241.8,368.3L207.8,375.1L205.9,296.3M207.7,297.8L238.8,292.3L240.2,367L209.4,373.2L207.7,297.8M219.8,371.1L218.1,295.9M230,369L228.5,294.1" fill="none" stroke="#1a1a1a" stroke-width="0.765"/><path d="M192.7,311.2L194.5,312.4M192.2,293.5L194.1,294.7" fill="none" stroke="#1a1a1a" stroke-width="1.2"/><path d="M194.6,313.5L196.4,313.2L195.9,293.2L194,293.5Z" fill="#fff" stroke="#1a1a1a" stroke-width="0.85" stroke-linejoin="round"/><path d="M194.3,313.2L196.7,312.7M193.8,294L196.2,293.6" fill="none" stroke="#1a1a1a" stroke-width="1.0"/><path d="M199.6,310L201.4,311.2M199.2,292.3L201,293.4" fill="none" stroke="#1a1a1a" stroke-width="1.2"/><path d="M201.5,312.3L203.3,312L202.9,292L201,292.3Z" fill="#fff" stroke="#1a1a1a" stroke-width="0.85" stroke-linejoin="round"/><path d="M201.2,311.9L203.6,311.5M200.7,292.8L203.1,292.4" fill="none" stroke="#1a1a1a" stroke-width="1.0"/><path d="M102.4,88.2L209.5,77.3L229.2,84.8L120.3,96.3Z" fill="#fff" stroke="#1a1a1a" stroke-width="0.85"/><path d="M120.3,96.3L229.2,84.8L231.1,186L124.2,200.9Z" fill="#fff" stroke="#1a1a1a" stroke-width="1.3"/><path d="M130.4,200L126.7,96.2M172.3,194.2L169.4,91.7M128.4,104.4L168.2,100.1L170.7,186.4L131.5,191.7L128.4,104.4M130.1,106.3L166.7,102.3L169.1,184.6L133.1,189.5L130.1,106.3M132,107.8L164.9,104.3L167.3,183.1L134.8,187.5L132,107.8" fill="none" stroke="#1a1a1a" stroke-width="0.765"/><path d="M134.3,171.8L151.1,185.3M133.7,155.9L167.3,183.1M133.1,140L166.8,167.5M132.6,124L166.3,151.8M132,107.8L165.9,136.1M148.6,106L165.4,120.2M148.6,106L132.6,124M164.9,104.3L133.1,140M165.4,120.2L133.7,155.9M165.9,136.1L134.3,171.8M166.3,151.8L134.8,187.5M166.8,167.5L151.1,185.3" fill="none" stroke="#1a1a1a" stroke-width="1.0625"/><path d="M184.9,192.4L182.1,90.4M225.3,186.8L223.3,86M183.7,98.4L222.1,94.3L223.8,179.1L186,184.3L183.7,98.4M185.4,100.3L220.6,96.4L222.2,177.4L187.5,182.1L185.4,100.3M187.2,101.8L218.9,98.4L220.5,175.9L189.2,180.2L187.2,101.8" fill="none" stroke="#1a1a1a" stroke-width="0.765"/><path d="M188.8,164.6L205,178M188.4,149.1L220.5,175.9M188,133.4L220.2,160.6M187.6,117.7L219.9,145.1M187.2,101.8L219.6,129.6M203.1,100.1L219.2,114M203.1,100.1L187.6,117.7M218.9,98.4L188,133.4M219.2,114L188.4,149.1M219.6,129.6L188.8,164.6M219.9,145.1L189.2,180.2M220.2,160.6L205,178" fill="none" stroke="#1a1a1a" stroke-width="1.0625"/><path d="M178.3,193.3L175.5,90.5M178.9,193.2L176,90.4" fill="none" stroke="#1a1a1a" stroke-width="0.85"/><path d="M174,187.8L175.8,188.7M173.5,170.1L175.3,171" fill="none" stroke="#1a1a1a" stroke-width="1.2"/><path d="M175.8,189.9L177.7,189.6L177.1,169.6L175.3,169.9Z" fill="#fff" stroke="#1a1a1a" stroke-width="0.85" stroke-linejoin="round"/><path d="M175.5,189.5L178,189.2M175,170.3L177.4,170" fill="none" stroke="#1a1a1a" stroke-width="1.0"/><path d="M181,186.8L182.8,187.8M180.5,169.2L182.3,170.1" fill="none" stroke="#1a1a1a" stroke-width="1.2"/><path d="M182.8,188.9L184.7,188.7L184.1,168.7L182.3,168.9Z" fill="#fff" stroke="#1a1a1a" stroke-width="0.85" stroke-linejoin="round"/><path d="M182.5,188.5L184.9,188.2M182,169.4L184.4,169.1" fill="none" stroke="#1a1a1a" stroke-width="1.0"/><path d="M227.9,84.4L247.5,82.3L249.1,182.7L229.9,185.3Z" fill="#fff" stroke="#1a1a1a" stroke-width="0.85"/><clipPath id="c2"><path d="M230.4,86.7L245.2,85.1L246.7,180.5L232.1,182.5Z"/></clipPath><g clip-path="url(#c2)"><path d="M226.4,75.5L245.2,82.5L246.8,183L228.3,174Z" fill="#fff" stroke="#1a1a1a" stroke-width="0.85"/><path d="M213.9,173.5L228.3,171.6L246.7,180.5L232.1,182.5Z" fill="#fff" stroke="#1a1a1a" stroke-width="0.85"/><path d="M212.9,126.6L227.4,124.8L246,132.8L231.2,134.6Z" fill="#fff" stroke="#1a1a1a" stroke-width="0.85"/><path d="M231.2,134.6L246,132.8L246,135.4L231.3,137.2Z" fill="#fff" stroke="#1a1a1a" stroke-width="0.85"/></g><path d="M230.4,86.7L245.2,85.1L246.7,180.5L232.1,182.5Z" fill="none" stroke="#1a1a1a" stroke-width="0.85"/><path d="M209.5,77.3L228.7,75.3L247.5,82.3L227.9,84.4Z" fill="#fff" stroke="#1a1a1a" stroke-width="0.85"/><path d="M209.5,77.3L227.9,84.4" fill="none" stroke="#1a1a1a" stroke-width="1.3"/><path d="M212.3,77L230.8,84.1" fill="none" stroke="#1a1a1a" stroke-width="1.3"/><path d="M226.4,75.5L245.2,82.5" fill="none" stroke="#1a1a1a" stroke-width="0.85"/><path d="M45.9,93.9L76,108.9L89.2,407.5L60,381.4Z" fill="#fff" stroke="#1a1a1a" stroke-width="0.85"/><path d="M59.9,379.3L89.1,405.3" fill="none" stroke="#1a1a1a" stroke-width="0.68"/><path d="M76,108.9L77.1,109.4L90.3,408.8L89.2,407.8Z" fill="#fff" stroke="#1a1a1a" stroke-width="0.85"/><path d="M45.9,93.9L102.4,88.2L135.5,103.1L77.1,109.4Z" fill="#fff" stroke="#1a1a1a" stroke-width="0.85"/><path d="M47.1,93.8L78.3,109.3" fill="none" stroke="#1a1a1a" stroke-width="1.7" stroke-dasharray="0.8 0.7" stroke-linecap="butt"/><path d="M101.3,88.3L134,103.1" fill="none" stroke="#1a1a1a" stroke-width="1.9" stroke-dasharray="0.8 0.7" stroke-linecap="butt"/><path d="M77.1,109.4L135.5,103.1L145.6,397.4L90.3,408.8Z" fill="#fff" stroke="#1a1a1a" stroke-width="1.3"/><path d="M87.3,117.3L128.7,112.7L131.9,203.2L91.2,208.9L87.3,117.3M89.2,119.3L127.4,115L130.5,201.3L92.8,206.5L89.2,119.3M91,120.9L126.5,116.9L129.5,199.6L94.5,204.5L91,120.9M106.2,202.9L102.9,119.6M117.9,201.2L114.8,118.3" fill="none" stroke="#1a1a1a" stroke-width="0.675"/><path d="M91.9,226.1L132.5,220.2L135,290.3L94.9,297.1L91.9,226.1M93.7,228L131.3,222.4L133.6,288.5L96.6,294.8L93.7,228M95.5,229.5L130.4,224.3L132.6,287L98.2,292.8L95.5,229.5M109.8,290.8L107.2,227.8M121.2,288.9L118.8,226" fill="none" stroke="#1a1a1a" stroke-width="0.675"/><path d="M95.6,313.9L135.6,306.9L138.5,390.8L99.2,398.8L95.6,313.9M97.4,315.6L134.4,309.1L137.2,389.1L100.8,396.5L97.4,315.6M99.2,317L133.5,311L136.2,387.6L102.4,394.4L99.2,317M113.8,392.2L110.7,315M125,389.9L122.1,313" fill="none" stroke="#1a1a1a" stroke-width="0.675"/><path d="M98.6,407.1L85.9,108.5M140.5,398.5L130.1,103.7" fill="none" stroke="#1a1a1a" stroke-width="0.85"/><path d="M82,218.9L139.2,210.7" fill="none" stroke="#1a1a1a" stroke-width="1.4"/><path d="M85.8,307.1L142.2,297.4" fill="none" stroke="#1a1a1a" stroke-width="1.4"/><path d="M133.8,205.8L135.6,206.9M133.2,187.1L134.9,188.1" fill="none" stroke="#1a1a1a" stroke-width="1.2"/><path d="M135.6,208L137.6,207.8L136.9,186.6L134.9,186.9Z" fill="#fff" stroke="#1a1a1a" stroke-width="0.85" stroke-linejoin="round"/><path d="M135.3,207.6L137.9,207.3M134.6,187.4L137.2,187" fill="none" stroke="#1a1a1a" stroke-width="1.0"/><path d="M136.9,293.3L138.6,294.5M136.3,275.1L138,276.3" fill="none" stroke="#1a1a1a" stroke-width="1.2"/><path d="M138.7,295.7L140.6,295.3L139.9,274.8L138,275.1Z" fill="#fff" stroke="#1a1a1a" stroke-width="0.85" stroke-linejoin="round"/><path d="M138.4,295.3L140.9,294.9M137.7,275.6L140.2,275.2" fill="none" stroke="#1a1a1a" stroke-width="1.0"/><path d="M137.9,321.6L139.6,322.9M137.3,303.7L139,305" fill="none" stroke="#1a1a1a" stroke-width="1.2"/><path d="M139.7,324L141.6,323.7L140.9,303.5L139,303.8Z" fill="#fff" stroke="#1a1a1a" stroke-width="0.85" stroke-linejoin="round"/><path d="M139.4,323.6L141.9,323.2M138.7,304.3L141.2,303.9" fill="none" stroke="#1a1a1a" stroke-width="1.0"/><path d="M67,389.8L70.4,389.8L70.7,394.5L71.8,395.5L72,398L69,399.2L66,398L66.2,395.5L66.8,394.5Z" fill="#fff" stroke="#1a1a1a" stroke-width="0.9"/><path d="M66.2,395.5L69,396.7L71.8,395.5" fill="none" stroke="#1a1a1a" stroke-width="0.8"/><path d="M67,392L70.5,392" fill="none" stroke="#1a1a1a" stroke-width="0.6"/><g font-family="'Liberation Sans',Arial,sans-serif"><path d="M44.2,48.8L507.4,2.1" fill="none" stroke="#4a4a4a" stroke-width="0.5"/><path d="M44.2,48.8L50,47L50.3,49.4Z" fill="#a8a8a8" stroke="none"/><path d="M507.4,2.1L501.6,3.9L501.3,1.5Z" fill="#a8a8a8" stroke="none"/><path d="M44.2,48.7L46.7,94.2" fill="none" stroke="#4a4a4a" stroke-width="0.5"/><path d="M507.4,2.1L511,46.5" fill="none" stroke="#4a4a4a" stroke-width="0.5"/><path d="M45.4,71.7L228,53.3" fill="none" stroke="#4a4a4a" stroke-width="0.5"/><path d="M45.4,71.7L51.2,69.8L51.5,72.3Z" fill="#a8a8a8" stroke="none"/><path d="M102,65.8L96.2,67.7L95.9,65.2Z" fill="#a8a8a8" stroke="none"/><path d="M102,65.8L107.8,64L108.1,66.5Z" fill="#a8a8a8" stroke="none"/><path d="M208,55.3L202.2,57.1L201.9,54.6Z" fill="#a8a8a8" stroke="none"/><path d="M208,55.3L213.8,53.5L214.1,55.9Z" fill="#a8a8a8" stroke="none"/><path d="M228,53.3L222.2,55.1L221.9,52.7Z" fill="#a8a8a8" stroke="none"/><path d="M102,65.8L102.4,88.3" fill="none" stroke="#4a4a4a" stroke-width="0.5"/><path d="M208,55.3L208.3,77" fill="none" stroke="#4a4a4a" stroke-width="0.5"/><path d="M228,53.3L228.3,75" fill="none" stroke="#4a4a4a" stroke-width="0.5"/><path d="M362.5,40.5L510.4,26.2" fill="none" stroke="#4a4a4a" stroke-width="0.5"/><path d="M362.5,40.5L368.3,38.6L368.6,41.1Z" fill="#a8a8a8" stroke="none"/><path d="M379,38.8L373.2,40.7L372.9,38.2Z" fill="#a8a8a8" stroke="none"/><path d="M379,38.8L384.9,37L385.1,39.5Z" fill="#a8a8a8" stroke="none"/><path d="M468.4,30.2L462.5,32L462.3,29.5Z" fill="#a8a8a8" stroke="none"/><path d="M468.4,30.2L474.3,28.4L474.5,30.9Z" fill="#a8a8a8" stroke="none"/><path d="M510.4,26.2L504.5,28L504.3,25.5Z" fill="#a8a8a8" stroke="none"/><path d="M362.5,40.5L362.7,61" fill="none" stroke="#4a4a4a" stroke-width="0.5"/><path d="M379,38.8L379.2,59.4" fill="none" stroke="#4a4a4a" stroke-width="0.5"/><path d="M468.4,30.2L468.6,49.5" fill="none" stroke="#4a4a4a" stroke-width="0.5"/><text transform="translate(275.6 18) rotate(-5.8) skewX(-7) scale(0.84 1)" y="4.8" font-size="13.4" fill="#3a3a3a" text-anchor="middle" font-style="italic" stroke="none">3800</text><text transform="translate(73.3 61.7) rotate(-5.8) skewX(-7) scale(0.84 1)" y="4.8" font-size="13.4" fill="#3a3a3a" text-anchor="middle" font-style="italic" stroke="none">400</text><text transform="translate(154 53.3) rotate(-5.8) skewX(-7) scale(0.84 1)" y="4.8" font-size="13.4" fill="#3a3a3a" text-anchor="middle" font-style="italic" stroke="none">800</text><text transform="translate(218 47.5) rotate(-5.8) skewX(-7) scale(0.84 1)" y="4.8" font-size="13.4" fill="#3a3a3a" text-anchor="middle" font-style="italic" stroke="none">150</text><text transform="translate(371.5 33) rotate(-5.8) skewX(-7) scale(0.84 1)" y="4.8" font-size="13.4" fill="#3a3a3a" text-anchor="middle" font-style="italic" stroke="none">150</text><text transform="translate(422.5 27.6) rotate(-5.8) skewX(-7) scale(0.84 1)" y="4.8" font-size="13.4" fill="#3a3a3a" text-anchor="middle" font-style="italic" stroke="none">800</text><text transform="translate(488.5 21) rotate(-5.8) skewX(-7) scale(0.84 1)" y="4.8" font-size="13.4" fill="#3a3a3a" text-anchor="middle" font-style="italic" stroke="none">400</text><path d="M110.5,230.4L465.5,173" fill="none" stroke="#4a4a4a" stroke-width="0.5"/><path d="M110.5,230.4L116.2,228.2L116.6,230.7Z" fill="#a8a8a8" stroke="none"/><path d="M465.5,173L459.8,175.2L459.4,172.7Z" fill="#a8a8a8" stroke="none"/><path d="M110.5,244.5L465.5,190.4" fill="none" stroke="#4a4a4a" stroke-width="0.5"/><path d="M110.5,244.5L116.2,242.4L116.6,244.8Z" fill="#a8a8a8" stroke="none"/><path d="M212.5,229L206.8,231.1L206.4,228.7Z" fill="#a8a8a8" stroke="none"/><path d="M212.5,229L218.2,226.9L218.6,229.3Z" fill="#a8a8a8" stroke="none"/><path d="M262,221.5L256.3,223.6L255.9,221.2Z" fill="#a8a8a8" stroke="none"/><path d="M262,221.5L267.7,219.4L268.1,221.8Z" fill="#a8a8a8" stroke="none"/><path d="M331,211L325.3,213.1L324.9,210.7Z" fill="#a8a8a8" stroke="none"/><path d="M331,211L336.7,208.9L337.1,211.3Z" fill="#a8a8a8" stroke="none"/><path d="M376,204.2L370.3,206.3L369.9,203.9Z" fill="#a8a8a8" stroke="none"/><path d="M376,204.2L381.7,202.1L382.1,204.5Z" fill="#a8a8a8" stroke="none"/><path d="M465.5,190.4L459.8,192.5L459.4,190.1Z" fill="#a8a8a8" stroke="none"/><path d="M110.5,230.4L110.5,244.5" fill="none" stroke="#4a4a4a" stroke-width="0.5"/><path d="M212.5,229L213.5,255" fill="none" stroke="#4a4a4a" stroke-width="0.5"/><path d="M262,221.5L262.5,246" fill="none" stroke="#4a4a4a" stroke-width="0.5"/><path d="M331,211L331.5,235" fill="none" stroke="#4a4a4a" stroke-width="0.5"/><path d="M376,204.2L376.5,228" fill="none" stroke="#4a4a4a" stroke-width="0.5"/><path d="M465.5,153.5L465.5,213.5" fill="none" stroke="#4a4a4a" stroke-width="0.5"/><text transform="translate(286.6 195.4) rotate(-9) skewX(-7) scale(0.84 1)" y="4.8" font-size="13.4" fill="#3a3a3a" text-anchor="middle" font-style="italic" stroke="none">3000</text><text transform="translate(159 231.6) rotate(-9) skewX(-7) scale(0.84 1)" y="4.8" font-size="13.4" fill="#3a3a3a" text-anchor="middle" font-style="italic" stroke="none">800</text><text transform="translate(235.6 219) rotate(-9) skewX(-7) scale(0.84 1)" y="4.8" font-size="13.4" fill="#3a3a3a" text-anchor="middle" font-style="italic" stroke="none">400</text><text transform="translate(295.6 210) rotate(-9) skewX(-7) scale(0.84 1)" y="4.8" font-size="13.4" fill="#3a3a3a" text-anchor="middle" font-style="italic" stroke="none">600</text><text transform="translate(354 200.5) rotate(-9) skewX(-7) scale(0.84 1)" y="4.8" font-size="13.4" fill="#3a3a3a" text-anchor="middle" font-style="italic" stroke="none">400</text><text transform="translate(419 189.8) rotate(-9) skewX(-7) scale(0.84 1)" y="4.8" font-size="13.4" fill="#3a3a3a" text-anchor="middle" font-style="italic" stroke="none">800</text></g><g font-family="'Liberation Serif','DejaVu Serif',serif" font-style="italic" font-size="47" fill="#f4f4f4" stroke="none" style="mix-blend-mode:multiply"><text x="1" y="229" textLength="104" lengthAdjust="spacingAndGlyphs">МИФ</text><text x="124" y="229" textLength="104" lengthAdjust="spacingAndGlyphs">МИФ</text><text x="245" y="229" textLength="104" lengthAdjust="spacingAndGlyphs">МИФ</text><text x="365" y="229" textLength="104" lengthAdjust="spacingAndGlyphs">МИФ</text><text x="485" y="229" textLength="104" lengthAdjust="spacingAndGlyphs">МИФ</text></g></svg></body></html>
